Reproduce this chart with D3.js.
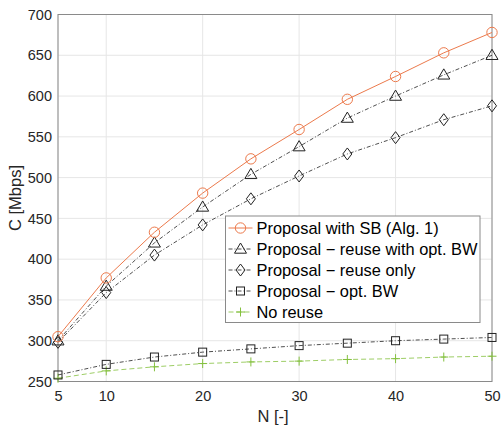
<!DOCTYPE html>
<html>
<head>
<meta charset="utf-8">
<script src="https://cdn.jsdelivr.net/npm/d3@7"></script>
<style>
  body { margin: 0; background: #fff; }
  svg { font-family: "Liberation Sans", Arial, sans-serif; }
</style>
</head>
<body>
<div id="chart"></div>
<script>
// data
const nValues = [5, 10, 15, 20, 25, 30, 35, 40, 45, 50];
const xTickValues = [5, 10, 20, 30, 40, 50];
const yTickValues = [250, 300, 350, 400, 450, 500, 550, 600, 650, 700];

const sbValues = [305, 377, 433, 481, 523, 559, 596, 624, 653, 678];
const reuseBwValues = [300, 367, 420, 464, 504, 538, 573, 600, 626, 650];
const reuseOnlyValues = [298, 359, 405, 442, 474, 502, 529, 549, 571, 588];
const optBwValues = [258, 271, 280, 286, 290, 294, 297, 300, 302, 304];
const noReuseValues = [254, 263, 268, 272, 274, 275, 277, 278, 280, 281];

const seriesNames = [
    "Proposal with SB (Alg. 1)",
    "Proposal \u2212 reuse with opt. BW",
    "Proposal \u2212 reuse only",
    "Proposal \u2212 opt. BW",
    "No reuse"
];

const width = 501, height = 426;
const margin = { top: 14.5, right: 9, bottom: 44.5, left: 58 };
const innerW = width - margin.left - margin.right;
const innerH = height - margin.top - margin.bottom;

const svg = d3.select("#chart").append("svg")
    .attr("width", width)
    .attr("height", height);

const chart = svg.append("g")
    .attr("transform", `translate(${margin.left},${margin.top})`);

const x = d3.scaleLinear().domain([5, 50]).range([0, innerW]);
const y = d3.scaleLinear().domain([250, 700]).range([innerH, 0]);

// grid
chart.append("g").selectAll("line")
    .data(xTickValues).join("line")
    .attr("x1", d => x(d)).attr("x2", d => x(d))
    .attr("y1", 0).attr("y2", innerH)
    .attr("stroke", "#e6e6e6").attr("stroke-width", 1);
chart.append("g").selectAll("line")
    .data(yTickValues).join("line")
    .attr("x1", 0).attr("x2", innerW)
    .attr("y1", d => y(d)).attr("y2", d => y(d))
    .attr("stroke", "#e6e6e6").attr("stroke-width", 1);

// axes
const xAxis = d3.axisBottom(x).tickValues(xTickValues).tickSize(0).tickPadding(9);
const yAxis = d3.axisLeft(y).tickValues(yTickValues).tickSize(0).tickPadding(6);

const xg = chart.append("g").attr("transform", `translate(0,${innerH})`).call(xAxis);
const yg = chart.append("g").call(yAxis);
[xg, yg].forEach(g => {
    g.select(".domain").remove();
    g.selectAll("text").attr("fill", "#262626").style("font-size", "14.5px")
        .style("font-family", "Liberation Sans, Arial, sans-serif");
});

// frame
chart.append("rect")
    .attr("x", 0).attr("y", 0)
    .attr("width", innerW).attr("height", innerH)
    .attr("fill", "none").attr("stroke", "#8a8a8a").attr("stroke-width", 1);

// axis labels
svg.append("text")
    .attr("x", margin.left + x(27.5) - 2)
    .attr("y", 422)
    .attr("text-anchor", "middle")
    .attr("fill", "#262626")
    .style("font-size", "16.5px")
    .text("N [-]");
svg.append("text")
    .attr("transform", `translate(21,${margin.top + y(475)}) rotate(-90)`)
    .attr("text-anchor", "middle")
    .attr("fill", "#262626")
    .style("font-size", "16.5px")
    .text("C [Mbps]");

// marker drawers
function circleMarker(g, cx, cy, color) {
    g.append("circle").attr("cx", cx).attr("cy", cy).attr("r", 5.2)
        .attr("fill", "none").attr("stroke", color).attr("stroke-width", 1);
}
function triangleMarker(g, cx, cy, color) {
    const s = 6;
    g.append("path")
        .attr("d", `M${cx},${cy - s}L${cx + s},${cy + s * 0.7}L${cx - s},${cy + s * 0.7}Z`)
        .attr("fill", "none").attr("stroke", color).attr("stroke-width", 1);
}
function diamondMarker(g, cx, cy, color) {
    g.append("path")
        .attr("d", `M${cx},${cy - 6}L${cx + 4.5},${cy}L${cx},${cy + 6}L${cx - 4.5},${cy}Z`)
        .attr("fill", "none").attr("stroke", color).attr("stroke-width", 1);
}
function squareMarker(g, cx, cy, color) {
    g.append("rect").attr("x", cx - 4).attr("y", cy - 4).attr("width", 8).attr("height", 8)
        .attr("fill", "none").attr("stroke", color).attr("stroke-width", 1);
}
function plusMarker(g, cx, cy, color) {
    g.append("path")
        .attr("d", `M${cx - 4.5},${cy}H${cx + 4.5}M${cx},${cy - 4.5}V${cy + 4.5}`)
        .attr("fill", "none").attr("stroke", color).attr("stroke-width", 1);
}

const series = [
    { values: sbValues, color: "#ec7a4c", dash: null, marker: circleMarker },
    { values: reuseBwValues, color: "#222", dash: "4,2,1,2", marker: triangleMarker },
    { values: reuseOnlyValues, color: "#222", dash: "4,2,1,2", marker: diamondMarker },
    { values: optBwValues, color: "#222", dash: "4,2,1,2", marker: squareMarker },
    { values: noReuseValues, color: "#84c03e", dash: "5,3", marker: plusMarker }
];

const line = d3.line().x(d => x(d[0])).y(d => y(d[1]));

// draw bottom series first so the orange one sits on top
series.slice().reverse().forEach(s => {
    const pts = nValues.map((n, i) => [n, s.values[i]]);
    const g = chart.append("g");
    g.append("path")
        .datum(pts)
        .attr("d", line)
        .attr("fill", "none")
        .attr("stroke", s.color)
        .attr("stroke-width", s.dash ? 0.8 : 1)
        .attr("stroke-dasharray", s.dash);
    pts.forEach(p => s.marker(g, x(p[0]), y(p[1]), s.color));
});

// legend
const legend = svg.append("g").attr("transform", "translate(225.5,216)");
legend.append("rect")
    .attr("width", 254.5).attr("height", 106.5)
    .attr("fill", "#fff").attr("stroke", "#8a8a8a").attr("stroke-width", 1);
series.forEach((s, i) => {
    const ly = 12 + i * 21;
    const g = legend.append("g");
    g.append("line")
        .attr("x1", 3).attr("x2", 27).attr("y1", ly).attr("y2", ly)
        .attr("stroke", s.color)
        .attr("stroke-width", s.dash ? 0.8 : 1)
        .attr("stroke-dasharray", s.dash);
    s.marker(g, 15, ly, s.color);
    g.append("text")
        .attr("x", 31).attr("y", ly + 5.5)
        .attr("fill", "#000")
        .style("font-size", "16.4px")
        .text(seriesNames[i]);
});
</script>
</body>
</html>
